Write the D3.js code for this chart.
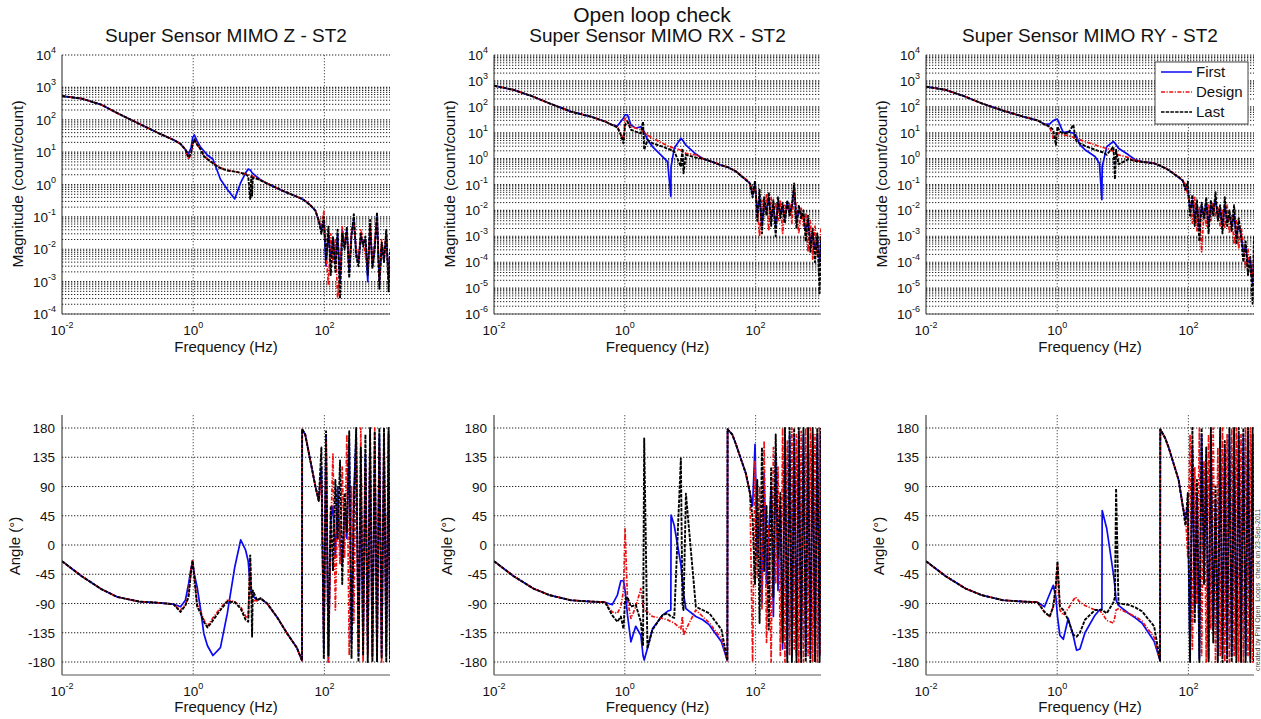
<!DOCTYPE html>
<html><head><meta charset="utf-8">
<script src="https://cdn.jsdelivr.net/npm/d3@7"></script>
<style>
body{margin:0;background:#fff;}
svg{font-family:"Liberation Sans",Arial,sans-serif;}
</style></head><body>
<svg id="c" width="1261" height="719"></svg>
<script>
// ===== DATA =====
const seriesNames = ["First", "Design", "Last"];
const panelTitles = ["Super Sensor MIMO Z - ST2", "Super Sensor MIMO RX - ST2", "Super Sensor MIMO RY - ST2"];
const mainTitle = "Open loop check";
const creditText = "created by Phil  Open_Loops_check on 23-Sep-2011";
const magExpZ = [-4, -3, -2, -1, 0, 1, 2, 3, 4];
const magExpR = [-6, -5, -4, -3, -2, -1, 0, 1, 2, 3, 4];
const freqExp = [-2, 0, 2];
const phaseTicks = [-180, -135, -90, -45, 0, 45, 90, 135, 180];

// ---- Z panel ----
const fZ = [0.01,0.02,0.04,0.07,0.15,0.3,0.5,0.64,0.76,0.85,0.93,0.98,1.04,1.15,1.3,1.45,1.65,2.0,2.6,3.3,4.3,5.3,6.3,6.9,7.4,7.7,7.9,8.1,9.4,10.6,13.4,19,27,38,45.6,45.8,51,61,73,82,
  90,98,106,115,125,135,147,159,173,187,203,220,239,259,281,305,331,359,389,422,458,497,539,585,634,688,746,810,878,952,1000];
const zMagFirst = [540,450,290,160,75,38,24,18,12,8.9,13.8,28,34,22,14,11,8,6,1.45,0.71,0.36,1.15,2.3,3.0,2.8,2.5,2.3,2.2,1.7,1.4,1.07,0.77,0.56,0.42,0.36,0.36,0.31,0.23,0.155,0.075,
  0.04,0.07,0.003,0.03,0.006,0.02,0.004,0.03,0.001,0.04,0.012,0.04,0.002,0.03,0.08,0.008,0.004,0.025,0.015,0.02,0.001,0.06,0.003,0.012,0.1,0.001,0.012,0.005,0.03,0.0012,0.006];
const zMagDesign = [540,450,290,160,75,38,24,18,12,6,9,17,24,17,12,7.8,6.2,4.6,3.3,2.8,2.5,2.3,2.1,2.0,1.95,1.9,1.85,1.8,1.55,1.38,1.07,0.77,0.56,0.42,0.36,0.36,0.31,0.23,0.155,0.08,
  0.05,0.15,0.008,0.0008,0.03,0.004,0.02,0.0003,0.002,0.05,0.015,0.03,0.003,0.04,0.06,0.01,0.005,0.04,0.02,0.006,0.003,0.05,0.004,0.02,0.08,0.001,0.02,0.006,0.03,0.001,0.004];
const zMagLast = [540,450,290,160,75,38,24,18,12,6.7,9.6,17.5,25,17,12,7.6,6,4.5,3.2,2.7,2.5,2.3,2.1,1.8,0.36,1.8,0.45,1.6,1.5,1.35,1.07,0.77,0.56,0.42,0.36,0.36,0.31,0.23,0.155,0.076,
  0.03,0.1,0.005,0.05,0.0016,0.025,0.002,0.04,0.0003,0.03,0.01,0.05,0.0013,0.025,0.12,0.006,0.003,0.03,0.012,0.025,0.0016,0.08,0.0025,0.01,0.14,0.0006,0.016,0.004,0.04,0.0005,0.008];
const zPhFirst = [-25,-48,-68,-80,-87,-89,-91,-95,-85,-60,-35,-28,-45,-65,-100,-136,-155,-170,-158,-106,-34,8,-8,-25,-65,-72,-76,-78,-85,-82,-90,-111,-136,-158,-178,178,170,130,90,68,
  120,-160,170,-180,40,60,-20,90,0,-30,50,10,160,-150,80,170,-170,100,-150,140,-160,160,-170,150,-160,170,-170,160,-170,170,-175];
const zPhDesign = [-25,-48,-68,-80,-87,-89,-91,-100,-92,-75,-35,-22,-48,-92,-102,-115,-125,-112,-97,-85,-87,-95,-110,-112,-20,-80,-90,-85,-86,-82,-90,-111,-136,-158,-178,178,170,130,90,68,
  100,-150,160,-180,20,140,-100,60,-30,120,-20,170,-170,90,-120,160,-160,180,-180,120,-170,170,-175,180,-170,150,-180,170,-160,175,-170];
const zPhLast = [-25,-48,-68,-80,-87,-89,-91,-103,-93,-80,-40,-24,-50,-95,-105,-118,-127,-116,-100,-87,-88,-98,-115,-118,-16,-75,-141,-70,-85,-82,-90,-111,-136,-158,-178,178,170,130,90,68,
  150,-175,175,-170,60,-40,100,10,130,-60,80,20,175,-175,50,180,-180,150,-170,170,-180,180,-180,175,-180,180,-175,180,-180,180,-180];

// ---- RX panel ----
const fRX = [0.01,0.02,0.04,0.07,0.15,0.3,0.5,0.64,0.77,0.87,0.955,1.01,1.1,1.24,1.47,1.76,1.9,1.98,2.22,2.65,3.77,4.5,5.06,5.1,5.7,7.2,7.6,7.9,8.6,12.2,15.5,19.6,30,37,37.3,44,50,71,82,
  90,98,106,115,125,135,147,159,173,187,203,220,239,259,281,305,331,359,389,422,458,497,539,585,634,688,746,810,878,952,1000];
const rxMagFirst = [650,450,245,137,65,42,27,20,18,27,37,49,49,20,15,17,13,11,5.3,2.9,1.2,0.77,0.035,0.49,2.5,6.1,5.3,4.6,3.3,1.5,1.02,0.82,0.55,0.47,0.47,0.38,0.32,0.15,0.11,
  0.04,0.1,0.0079,0.032,0.0025,0.02,0.01,0.032,0.005,0.016,0.0025,0.02,0.0079,0.013,0.005,0.02,0.01,0.013,0.079,0.004,0.01,0.0079,0.0063,0.0016,0.004,0.00063,0.0013,0.00032,0.00079,0.0001,0.00063];
const rxMagDesign = [650,450,245,137,65,42,27,20,17,9.5,5.3,37,27,17,15,13,11,10,8.2,6.1,3.9,3.1,2.8,2.7,2.6,2.1,1.9,1.8,1.6,1.4,1.0,0.82,0.56,0.48,0.48,0.39,0.33,0.16,0.12,
  0.05,0.079,0.013,0.001,0.025,0.01,0.04,0.0016,0.032,0.0063,0.02,0.004,0.025,0.0013,0.016,0.01,0.02,0.0032,0.063,0.01,0.0013,0.013,0.0025,0.0079,0.00025,0.004,0.00013,0.0025,0.00016,0.0005,0.002];
const rxMagLast = [650,450,245,137,65,42,27,20,16,8.2,3.9,20,27,13,11,9.5,27,2.2,5.3,3.9,2.9,2.4,2.2,2.1,1.9,0.49,2.5,0.27,1.4,1.1,1.0,0.82,0.55,0.47,0.47,0.38,0.32,0.15,0.11,
  0.032,0.14,0.004,0.063,0.0013,0.032,0.0063,0.05,0.0025,0.025,0.001,0.032,0.005,0.02,0.0032,0.025,0.0063,0.016,0.11,0.002,0.016,0.005,0.01,0.00063,0.0063,0.00025,0.002,0.0001,0.0013,0.0000063,0.001];
const rxPhFirst = [-25,-48,-67,-77,-85,-87,-88,-92,-77,-55,-55,-70,-108,-149,-125,-139,-170,-177,-159,-129,-108,-102,-100,46,30,-30,-57,-75,-98,-110,-115,-123,-149,-178,178,170,155,110,80,
  60,155,-20,50,-90,110,-60,20,90,-110,140,-70,60,-160,170,-170,170,-170,170,-170,170,-170,170,-170,170,-170,170,-170,170,-170,170];
const rxPhDesign = [-25,-48,-67,-77,-85,-87,-88,-103,-105,-95,-70,25,-85,-113,-95,-67,-95,-100,-103,-110,-113,-115,-118,-118,-120,-129,-110,-139,-130,-100,-110,-120,-144,-178,178,170,155,110,80,
  -180,130,-50,90,-100,160,-150,30,-180,150,-60,120,-170,180,-180,160,-170,180,-160,170,-180,175,-180,180,-170,180,-180,170,-180,180,-170];
const rxPhLast = [-25,-48,-67,-77,-85,-87,-88,-108,-118,-110,-129,-85,-80,-95,-92,-118,-155,164,-159,-130,-108,-105,-110,-110,-112,133,-90,-100,79,-95,-100,-105,-130,-178,178,170,155,110,80,
  40,-60,100,-120,150,-40,60,-130,120,-80,170,-20,80,-150,180,-180,180,-180,180,-180,180,-180,180,-180,180,-180,180,-180,180,-180,180];

// ---- RY panel ----
const fRY = [0.01,0.02,0.04,0.07,0.15,0.3,0.5,0.64,0.77,0.87,0.955,1.01,1.1,1.24,1.47,1.76,1.9,1.98,2.22,2.65,3.77,4.4,4.8,4.85,5.7,7.2,7.6,7.9,8.6,12.2,15.5,19.6,30,37,37.3,44,50,71,82,
  90,98,106,115,125,135,147,159,173,187,203,220,239,259,281,305,331,359,389,422,458,497,539,585,634,688,746,810,878,952,1000];
const ryMagFirst = [600,450,245,137,71,42,30,21,22,29,33,33,20,10,11,9.5,8.2,7,3.4,2.2,1.2,0.66,0.026,0.49,2.9,4.6,3.9,3.4,2.5,1.4,0.9,0.77,0.66,0.53,0.52,0.43,0.36,0.19,0.14,
  0.079,0.063,0.01,0.025,0.005,0.016,0.002,0.016,0.0063,0.02,0.0025,0.016,0.01,0.025,0.0063,0.01,0.0025,0.016,0.004,0.0063,0.0025,0.0063,0.001,0.0025,0.0013,0.00025,0.0004,0.0001,0.00013,0.000016,0.00016];
const ryMagDesign = [600,450,245,137,71,42,30,21,16,6.1,7,9.5,9.5,8.2,7.6,6.7,6.1,5.8,5.3,4.6,3.4,2.9,2.8,2.7,2.5,1.9,1.8,1.6,1.4,1.1,0.85,0.76,0.67,0.54,0.53,0.44,0.37,0.2,0.15,
  0.1,0.04,0.016,0.0032,0.032,0.0016,0.013,0.00025,0.01,0.0025,0.016,0.004,0.02,0.0063,0.013,0.0025,0.01,0.002,0.016,0.0013,0.0063,0.0005,0.004,0.00032,0.0025,0.0005,0.000063,0.00032,0.00004,0.000025,0.00025];
const ryMagLast = [600,450,245,137,71,42,30,21,17,13,3.4,17,11,9.5,9.5,20,6.1,4.6,3.9,3.1,2.2,1.9,1.8,1.8,1.4,2.9,0.16,2.2,0.6,0.95,0.8,0.74,0.66,0.53,0.52,0.43,0.36,0.19,0.14,
  0.063,0.13,0.0063,0.04,0.0025,0.025,0.00063,0.02,0.005,0.032,0.0013,0.025,0.0063,0.05,0.004,0.016,0.0013,0.032,0.0025,0.01,0.0016,0.016,0.0005,0.005,0.001,0.0001,0.00063,0.000032,0.00016,0.0000025,0.001];
const ryPhFirst = [-25,-48,-67,-77,-85,-87,-88,-95,-75,-62,-80,-110,-139,-145,-113,-140,-155,-162,-160,-135,-108,-100,-98,53,25,-45,-65,-85,-93,-105,-112,-120,-148,-178,178,165,150,100,60,
  40,60,-170,150,-100,80,-175,170,-40,120,-175,170,-130,70,-170,170,-170,150,-170,170,-170,170,-170,170,-170,170,-170,170,-170,170,-170];
const ryPhDesign = [-25,-48,-67,-77,-85,-87,-88,-103,-110,-95,-70,-30,-100,-108,-98,-85,-80,-82,-88,-93,-100,-100,-105,-105,-116,-120,-110,-100,-98,-105,-110,-117,-142,-178,178,165,150,100,60,
  50,-20,170,-160,120,-90,180,-170,130,-180,170,-130,180,-180,150,-170,180,-180,170,-180,180,-170,180,-180,170,-180,180,-170,180,-180,170];
const ryPhLast = [-25,-48,-67,-77,-85,-87,-88,-103,-110,-95,-60,-25,-95,-100,-115,-138,-140,-141,-135,-115,-100,-100,-100,-100,-105,-88,-80,87,-90,-92,-96,-102,-125,-178,178,165,150,100,60,
  30,80,-180,180,-120,100,-180,180,-60,150,-180,180,-150,90,-180,180,-180,160,-180,180,-180,180,-180,180,-180,180,-180,180,-180,180,-180];

// ===== LAYOUT / STYLE =====
const panels = [
  {f: fZ, mag: [zMagFirst, zMagDesign, zMagLast], ph: [zPhFirst, zPhDesign, zPhLast], exps: magExpZ, minor: [-4, 3], x0: 62, x1: 390},
  {f: fRX, mag: [rxMagFirst, rxMagDesign, rxMagLast], ph: [rxPhFirst, rxPhDesign, rxPhLast], exps: magExpR, minor: [-6, 4], x0: 494, x1: 821},
  {f: fRY, mag: [ryMagFirst, ryMagDesign, ryMagLast], ph: [ryPhFirst, ryPhDesign, ryPhLast], exps: magExpR, minor: [-6, 4], x0: 926, x1: 1254}
];
const magTop = 55, magBot = 314, phTop = 415, phBot = 675;
const styles = [
  {color: "#0a0af5", dash: null, w: 1.7},
  {color: "#f01010", dash: "4,1.5,1.2,1.5", w: 1.7},
  {color: "#000000", dash: "3.5,1.2", w: 1.9}
];
const gridColor = "#262626";
const textColor = "#111";

const svg = d3.select("#c");
svg.append("rect").attr("width", 1261).attr("height", 719).attr("fill", "#fff");
const defs = svg.append("defs");

function hLines(g, ys, x0, x1, w) {
  g.selectAll(null).data(ys).enter().append("line")
    .attr("x1", x0).attr("x2", x1).attr("y1", d => d).attr("y2", d => d)
    .attr("stroke", gridColor).attr("stroke-width", w).attr("stroke-dasharray", "1.3,1.7");
}
function vLines(g, xs, y0, y1) {
  g.selectAll(null).data(xs).enter().append("line")
    .attr("x1", d => d).attr("x2", d => d).attr("y1", y0).attr("y2", y1)
    .attr("stroke", "#444").attr("stroke-width", 0.9).attr("stroke-dasharray", "1.3,1.7");
}
function powLabel(g, x, y, exp, anchor) {
  const t = g.append("text").attr("x", x).attr("y", y).attr("text-anchor", anchor)
    .attr("font-size", 13.5).attr("fill", textColor);
  t.append("tspan").text("10");
  t.append("tspan").attr("dy", -7).attr("font-size", 9).text(exp);
}

panels.forEach((p, i) => {
  const x = d3.scaleLog().domain([0.01, 1000]).range([p.x0, p.x1]);
  const ym = d3.scaleLog().domain([Math.pow(10, p.exps[0]), Math.pow(10, p.exps[p.exps.length - 1])]).range([magBot, magTop]);
  const yp = d3.scaleLinear().domain([-200, 200]).range([phBot, phTop]);
  const cx = (p.x0 + p.x1) / 2;

  // ----- magnitude panel -----
  const gm = svg.append("g");
  const minorVals = [];
  for (let e = p.minor[0]; e < p.minor[1]; e++) for (let k = 2; k <= 9; k++) minorVals.push(k * Math.pow(10, e));
  hLines(gm, minorVals.map(v => ym(v)), p.x0, p.x1, 1);
  hLines(gm, p.exps.map(e => ym(Math.pow(10, e))), p.x0, p.x1, 1.1);
  vLines(gm, freqExp.slice(1).map(e => x(Math.pow(10, e))), magTop, magBot);

  defs.append("clipPath").attr("id", "cm" + i).append("rect")
    .attr("x", p.x0).attr("y", magTop).attr("width", p.x1 - p.x0).attr("height", magBot - magTop);
  const lm = svg.append("g").attr("clip-path", `url(#cm${i})`);
  p.mag.forEach((vals, s) => {
    const pts = p.f.map((fv, j) => [fv, vals[j]]);
    lm.append("path").datum(pts)
      .attr("d", d3.line().x(d => x(d[0])).y(d => ym(d[1])))
      .attr("fill", "none").attr("stroke", styles[s].color).attr("stroke-width", styles[s].w)
      .attr("stroke-dasharray", styles[s].dash).attr("stroke-linejoin", "round");
  });
  // axes
  svg.append("line").attr("x1", p.x0).attr("x2", p.x0).attr("y1", magTop).attr("y2", magBot).attr("stroke", "#222");
  svg.append("line").attr("x1", p.x0).attr("x2", p.x1).attr("y1", magBot).attr("y2", magBot).attr("stroke", "#555");
  p.exps.forEach(e => powLabel(svg, p.x0 - 6, ym(Math.pow(10, e)) + 5, String(e), "end"));
  freqExp.forEach(e => powLabel(svg, x(Math.pow(10, e)), 335, String(e), "middle"));
  svg.append("text").attr("x", cx).attr("y", 352).attr("text-anchor", "middle").attr("font-size", 15)
    .attr("fill", textColor).text("Frequency (Hz)");
  svg.append("text").attr("transform", `translate(${p.x0 - 44},184) rotate(-90)`).attr("dy", "0.35em")
    .attr("text-anchor", "middle").attr("font-size", 15.5).attr("fill", textColor).text("Magnitude (count/count)");
  svg.append("text").attr("x", cx).attr("y", 42).attr("text-anchor", "middle").attr("font-size", 19)
    .attr("fill", textColor).text(panelTitles[i]);

  // ----- phase panel -----
  const gp = svg.append("g");
  hLines(gp, phaseTicks.map(v => yp(v)), p.x0, p.x1, 1.1);
  vLines(gp, freqExp.slice(1).map(e => x(Math.pow(10, e))), phTop, phBot);
  defs.append("clipPath").attr("id", "cp" + i).append("rect")
    .attr("x", p.x0).attr("y", phTop).attr("width", p.x1 - p.x0).attr("height", phBot - phTop);
  const lp = svg.append("g").attr("clip-path", `url(#cp${i})`);
  p.ph.forEach((vals, s) => {
    const pts = p.f.map((fv, j) => [fv, vals[j]]);
    lp.append("path").datum(pts)
      .attr("d", d3.line().x(d => x(d[0])).y(d => yp(d[1])))
      .attr("fill", "none").attr("stroke", styles[s].color).attr("stroke-width", styles[s].w)
      .attr("stroke-dasharray", styles[s].dash).attr("stroke-linejoin", "round");
  });
  svg.append("line").attr("x1", p.x0).attr("x2", p.x0).attr("y1", phTop).attr("y2", phBot).attr("stroke", "#222");
  svg.append("line").attr("x1", p.x0).attr("x2", p.x1).attr("y1", phBot).attr("y2", phBot).attr("stroke", "#555");
  phaseTicks.forEach(v => svg.append("text").attr("x", p.x0 - 7).attr("y", yp(v) + 5).attr("text-anchor", "end")
    .attr("font-size", 13.5).attr("fill", textColor).text(v));
  freqExp.forEach(e => powLabel(svg, x(Math.pow(10, e)), 696, String(e), "middle"));
  svg.append("text").attr("x", cx).attr("y", 712).attr("text-anchor", "middle").attr("font-size", 15)
    .attr("fill", textColor).text("Frequency (Hz)");
  svg.append("text").attr("transform", `translate(${p.x0 - 47},546) rotate(-90)`).attr("dy", "0.35em")
    .attr("text-anchor", "middle").attr("font-size", 15).attr("fill", textColor).text("Angle (°)");
});

// main title
svg.append("text").attr("x", 652).attr("y", 22).attr("text-anchor", "middle").attr("font-size", 21)
  .attr("fill", textColor).text(mainTitle);

// legend
const lg = svg.append("g");
lg.append("rect").attr("x", 1155).attr("y", 62).attr("width", 93).attr("height", 62)
  .attr("fill", "#fff").attr("stroke", "#444").attr("stroke-width", 1);
seriesNames.forEach((n, s) => {
  const yy = 72 + s * 20;
  lg.append("line").attr("x1", 1161).attr("x2", 1192).attr("y1", yy).attr("y2", yy)
    .attr("stroke", styles[s].color).attr("stroke-width", 1.5).attr("stroke-dasharray", styles[s].dash);
  lg.append("text").attr("x", 1196).attr("y", yy + 5).attr("font-size", 15).attr("fill", textColor).text(n);
});

// credit
svg.append("text").attr("transform", "translate(1258,590) rotate(-90)").attr("dy", "0.35em")
  .attr("text-anchor", "middle").attr("font-size", 7).attr("fill", "#444").text(creditText);
</script>
</body></html>
